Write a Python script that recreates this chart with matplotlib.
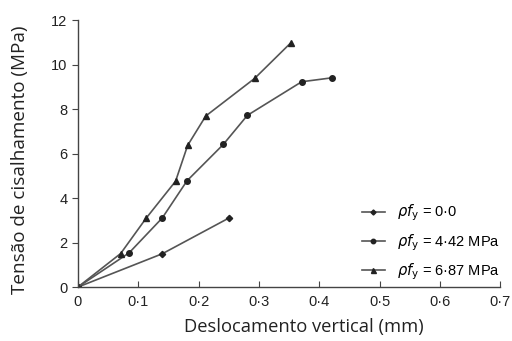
import matplotlib
matplotlib.use("Agg")
import matplotlib.pyplot as plt
from matplotlib.ticker import FuncFormatter

# data
x_s1 = [0, 0.14, 0.25]
y_s1 = [0, 1.5, 3.1]
x_s2 = [0, 0.085, 0.14, 0.181, 0.241, 0.281, 0.371, 0.422]
y_s2 = [0, 1.54, 3.11, 4.78, 6.41, 7.72, 9.23, 9.41]
x_s3 = [0, 0.071, 0.113, 0.162, 0.182, 0.212, 0.293, 0.353]
y_s3 = [0, 1.51, 3.09, 4.76, 6.37, 7.69, 9.38, 10.98]
labels = [r'$\rho f_{\mathrm{y}}$ = 0·0',
          r'$\rho f_{\mathrm{y}}$ = 4·42 MPa',
          r'$\rho f_{\mathrm{y}}$ = 6·87 MPa']

plt.rcParams['font.family'] = ['Liberation Sans', 'DejaVu Sans']
plt.rcParams['mathtext.fontset'] = 'dejavusans'

fig = plt.figure(figsize=(5.12, 3.41), dpi=100)
ax = fig.add_axes([0.152, 0.158, 0.825, 0.783])

lc = '#555555'
ax.plot(x_s1, y_s1, color=lc, lw=1.2, marker='D', ms=3.2, mfc='#222222', mec='#222222', label=labels[0])
ax.plot(x_s2, y_s2, color=lc, lw=1.2, marker='o', ms=4, mfc='#222222', mec='#222222', label=labels[1])
ax.plot(x_s3, y_s3, color=lc, lw=1.2, marker='^', ms=4.5, mfc='#222222', mec='#222222', label=labels[2])

ax.set_xlim(0, 0.7)
ax.set_ylim(0, 12)
ax.set_xticks([0, 0.1, 0.2, 0.3, 0.4, 0.5, 0.6, 0.7])
ax.set_yticks([0, 2, 4, 6, 8, 10, 12])
ax.xaxis.set_major_formatter(FuncFormatter(lambda v, p: '0' if v == 0 else ('%.1f' % v).replace('.', '·')))

for s in ['top', 'right']:
    ax.spines[s].set_visible(False)
for s in ['left', 'bottom']:
    ax.spines[s].set_color('#444444')
    ax.spines[s].set_linewidth(1.0)
ax.tick_params(axis='x', direction='in', length=4, color='#444444', labelsize=10.5, pad=6, labelcolor='#222222')
ax.tick_params(axis='y', direction='out', length=4, color='#444444', labelsize=10.5, labelcolor='#222222')

ax.set_xlabel('Deslocamento vertical (mm)', fontsize=13.2, family=['Open Sans', 'DejaVu Sans'], color='#222222')
ax.set_ylabel('Tensão de cisalhamento (MPa)', fontsize=13.6, family=['Open Sans', 'DejaVu Sans'], color='#222222')
ax.xaxis.set_label_coords(0.536, -0.115)
ax.yaxis.set_label_coords(-0.115, 0.478)

ax.legend(loc='lower right', frameon=False, fontsize=10.5, handlelength=1.6,
          bbox_to_anchor=(1.03, -0.03), labelspacing=0.6, markerscale=0.8)

fig.savefig('out.png', dpi=100)
